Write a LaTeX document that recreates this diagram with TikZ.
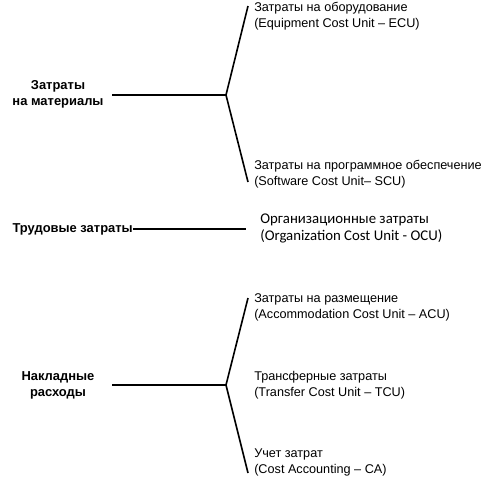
\documentclass[tikz,border=0pt]{standalone}
\usepackage{fontspec}
\setmainfont{Liberation Sans}
\newfontfamily\carlito{Carlito}
\usepackage{tikz}

\tikzset{
    cost/.style={anchor=west, align=left, inner sep=0pt, font=\fontsize{9.5}{12}\selectfont},
    group/.style={align=center, inner sep=0pt, font=\fontsize{9.7}{12}\selectfont\bfseries},
    branch/.style={line width=1.2pt}
}

\begin{document}
\begin{tikzpicture}[x=0.75pt, y=-0.75pt]
    \useasboundingbox (0, 0) rectangle (500, 480);

    % Materials
    \node[group] (mat) at (58, 94) {Затраты\\на материалы};
    \coordinate (matstart) at (112, 95);
    \coordinate (mathub) at (226, 95);
    \coordinate (ecuend) at (248, 6);
    \coordinate (scuend) at (248, 182);
    \node[cost] (ecu) at (254, 16) {Затраты на оборудование\\(Equipment Cost Unit -- ECU)};
    \node[cost] (scu) at (254, 174) {Затраты на программное обеспечение\\(Software Cost Unit-- SCU)};
    \draw[branch] (matstart) -- (mathub);
    \draw[branch] (ecuend) -- (mathub) -- (scuend);

    % Labour
    \node[group, anchor=east] (lab) at (133, 229) {Трудовые затраты};
    \coordinate (labend) at (246, 229);
    \node[cost, font=\fontsize{11.1}{12.75}\selectfont\carlito] (ocu) at (260, 228.5) {Организационные затраты\\(Organization Cost Unit - OCU)};
    \draw[branch] (lab.east) -- (labend);

    % Overheads
    \node[group] (ovh) at (58, 385) {Накладные\\расходы};
    \coordinate (ovhstart) at (112, 385);
    \coordinate (ovhhub) at (226, 385);
    \coordinate (acuend) at (248, 298);
    \coordinate (caend) at (248, 473);
    \node[cost] (acu) at (254, 307) {Затраты на размещение\\(Accommodation Cost Unit -- ACU)};
    \node[cost] (tcu) at (254, 385) {Трансферные затраты\\(Transfer Cost Unit -- TCU)};
    \node[cost] (ca) at (254, 462) {Учет затрат\\(Cost Accounting -- CA)};
    \draw[branch] (ovhstart) -- (ovhhub);
    \draw[branch] (acuend) -- (ovhhub) -- (caend);
\end{tikzpicture}
\end{document}
